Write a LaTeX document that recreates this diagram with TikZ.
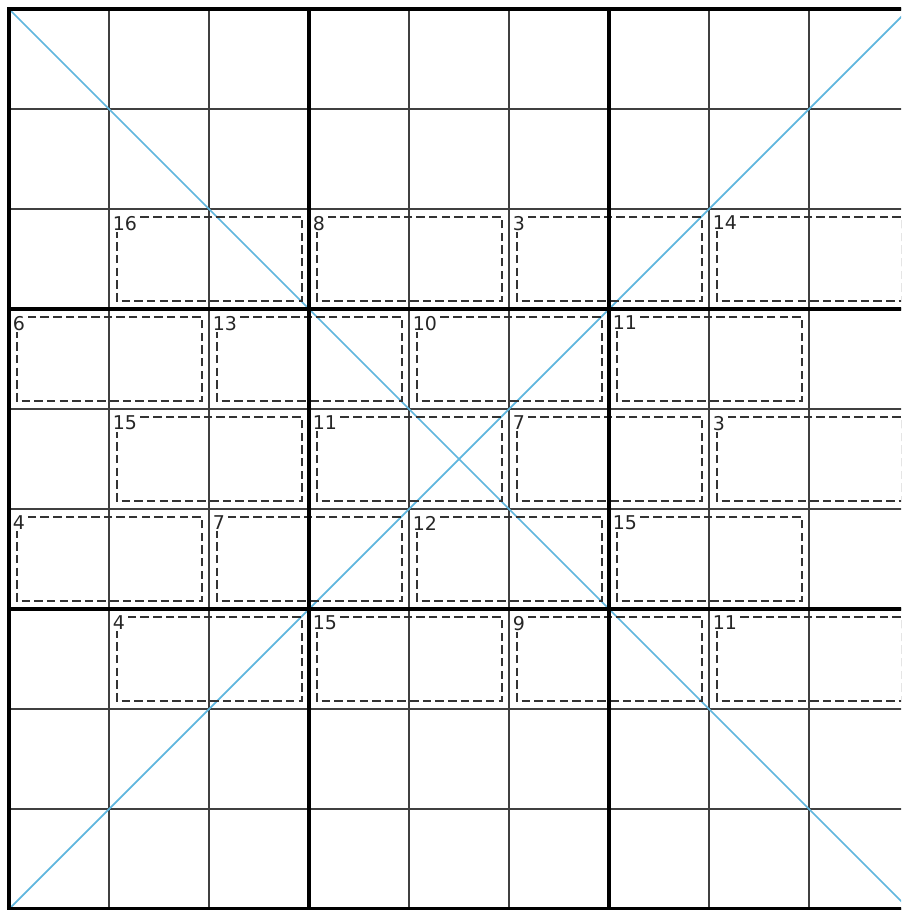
\documentclass[tikz,border=0pt]{standalone}
\usepackage{fontspec}
\setmainfont{DejaVu Sans}
\definecolor{diagblue}{RGB}{95,182,222}
\tikzset{
  gridline/.style={line width=0.5pt, color=black!75},
  boxline/.style={line width=1.4pt, color=black, line cap=rect},
  diagline/.style={line width=0.5pt, color=diagblue},
  cagebox/.style={line width=0.7pt, color=black!80, dash pattern=on 2.4pt off 1.2pt},
  cagesum/.style={anchor=north west, fill=white, inner sep=0.4pt, text=black!85,
    font=\fontsize{5.4}{6}\selectfont}
}
\begin{document}
\begin{tikzpicture}[x=1cm, y=-1cm]
	\clip (-0.09,-0.09) rectangle (8.92,9.01);
	% thin grid
	\foreach \i in {0,...,9} {
		\draw[gridline] (\i,0) -- (\i,9);
		\draw[gridline] (0,\i) -- (9,\i);
	}
	% diagonals
	\draw[diagline] (0,0) -- (9,9);
	\draw[diagline] (0,9) -- (9,0);
	% cages: row/column/sum
	\foreach \r/\c/\s in {2/1/16, 2/3/8, 2/5/3, 2/7/14,
	                      3/0/6, 3/2/13, 3/4/10, 3/6/11,
	                      4/1/15, 4/3/11, 4/5/7, 4/7/3,
	                      5/0/4, 5/2/7, 5/4/12, 5/6/15,
	                      6/1/4, 6/3/15, 6/5/9, 6/7/11} {
		\draw[cagebox] (\c+0.08,\r+0.08) rectangle (\c+1.93,\r+0.92);
		\node[cagesum] (sum-\r-\c) at (\c+0.017,\r+0.05) {\s};
	}
	% 3x3 boxes
	\foreach \i in {0,3,6,9} {
		\draw[boxline] (\i,0) -- (\i,9);
		\draw[boxline] (0,\i) -- (9,\i);
	}
\end{tikzpicture}
\end{document}
